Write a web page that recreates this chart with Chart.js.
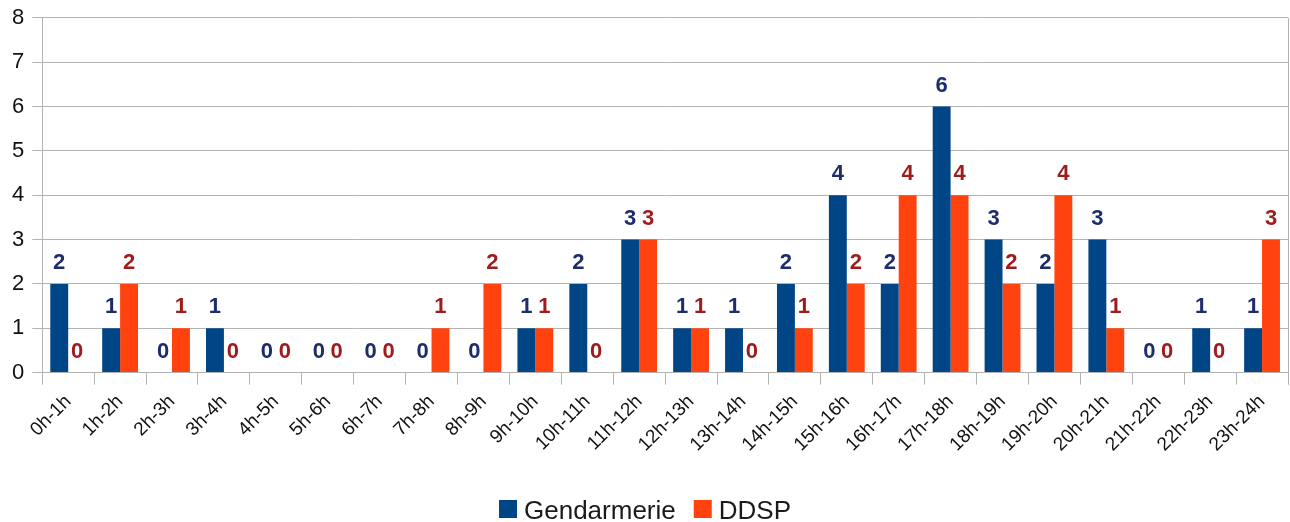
<!DOCTYPE html>
<html>
<head>
<meta charset="utf-8">
<script src="https://cdn.jsdelivr.net/npm/chart.js@4/dist/chart.umd.min.js"></script>
<style>
html,body{margin:0;padding:0;background:#fff;}
#wrap{width:1290px;height:522px;}
</style>
</head>
<body>
<div id="wrap"><canvas id="c" width="1290" height="522"></canvas></div>
<script>
const categories = ["0h-1h","1h-2h","2h-3h","3h-4h","4h-5h","5h-6h","6h-7h","7h-8h","8h-9h","9h-10h","10h-11h","11h-12h","12h-13h","13h-14h","14h-15h","15h-16h","16h-17h","17h-18h","18h-19h","19h-20h","20h-21h","21h-22h","22h-23h","23h-24h"];
const gendarmerie = [2,1,0,1,0,0,0,0,0,1,2,3,1,1,2,4,2,6,3,2,3,0,1,1];
const ddsp = [0,2,1,0,0,0,0,1,2,1,0,3,1,0,1,2,4,4,2,4,1,0,0,3];
const seriesNames = ["Gendarmerie","DDSP"];
const yTicks = [0,1,2,3,4,5,6,7,8];

const barColors = ["#004586","#ff420e"];
const labelColors = ["#1c2c6c","#a01c1c"];
const FONT = "'Liberation Sans', Arial, sans-serif";

const valueLabels = {
  id: 'valueLabels',
  afterDatasetsDraw(chart) {
    const ctx = chart.ctx;
    ctx.save();
    ctx.font = "bold 22px " + FONT;
    ctx.textAlign = 'center';
    ctx.textBaseline = 'middle';
    chart.data.datasets.forEach((ds, i) => {
      const meta = chart.getDatasetMeta(i);
      ctx.fillStyle = labelColors[i];
      meta.data.forEach((bar, j) => {
        ctx.fillText(String(ds.data[j]), bar.x, bar.y - 21);
      });
    });
    ctx.restore();
  }
};

const rightBorder = {
  id: 'rightBorder',
  beforeDatasetsDraw(chart) {
    const a = chart.chartArea;
    const ctx = chart.ctx;
    ctx.save();
    ctx.strokeStyle = '#b3b3b3';
    ctx.lineWidth = 1;
    ctx.beginPath();
    ctx.moveTo(Math.round(a.right) + 0.5, a.top);
    ctx.lineTo(Math.round(a.right) + 0.5, a.bottom + 12);
    ctx.stroke();
    ctx.restore();
  }
};

const customLegend = {
  id: 'customLegend',
  afterDraw(chart) {
    const ctx = chart.ctx;
    ctx.save();
    ctx.font = "26px " + FONT;
    ctx.textBaseline = 'alphabetic';
    ctx.textAlign = 'left';
    const box = 18, gapText = 7, gapItem = 18;
    const widths = seriesNames.map(n => ctx.measureText(n).width);
    let total = 0;
    widths.forEach((w, i) => { total += box + gapText + w + (i < widths.length - 1 ? gapItem : 0); });
    let x = (chart.width - total) / 2;
    const boxTop = 500;
    seriesNames.forEach((n, i) => {
      ctx.fillStyle = barColors[i];
      ctx.fillRect(x, boxTop, box, box);
      ctx.fillStyle = '#1a1a1a';
      ctx.fillText(n, x + box + gapText, boxTop + 19);
      x += box + gapText + widths[i] + gapItem;
    });
    ctx.restore();
  }
};

new Chart(document.getElementById('c'), {
  type: 'bar',
  data: {
    labels: categories,
    datasets: [
      {label: seriesNames[0], data: gendarmerie, backgroundColor: barColors[0], categoryPercentage: 0.69, barPercentage: 1.0},
      {label: seriesNames[1], data: ddsp, backgroundColor: barColors[1], categoryPercentage: 0.69, barPercentage: 1.0}
    ]
  },
  options: {
    responsive: false,
    animation: false,
    devicePixelRatio: 1,
    layout: {padding: {top: 0, right: 2, left: 4, bottom: 60}},
    plugins: {
      legend: {display: false},
      tooltip: {enabled: false}
    },
    scales: {
      x: {
        offset: true,
        grid: {offset: true, drawOnChartArea: false, color: '#b3b3b3', tickLength: 12},
        border: {color: '#b3b3b3'},
        ticks: {
          font: {family: FONT, size: 19},
          color: '#111',
          maxRotation: 45, minRotation: 45,
          autoSkip: false,
          padding: 6
        }
      },
      y: {
        min: 0, max: 8,
        afterBuildTicks: (s) => { s.ticks = yTicks.map(v => ({value: v})); },
        grid: {color: '#b3b3b3', tickLength: 10},
        border: {color: '#b3b3b3'},
        ticks: {
          font: {family: FONT, size: 22, lineHeight: 0.9},
          color: '#111',
          padding: 8
        }
      }
    }
  },
  plugins: [valueLabels, rightBorder, customLegend]
});
</script>
</body>
</html>
